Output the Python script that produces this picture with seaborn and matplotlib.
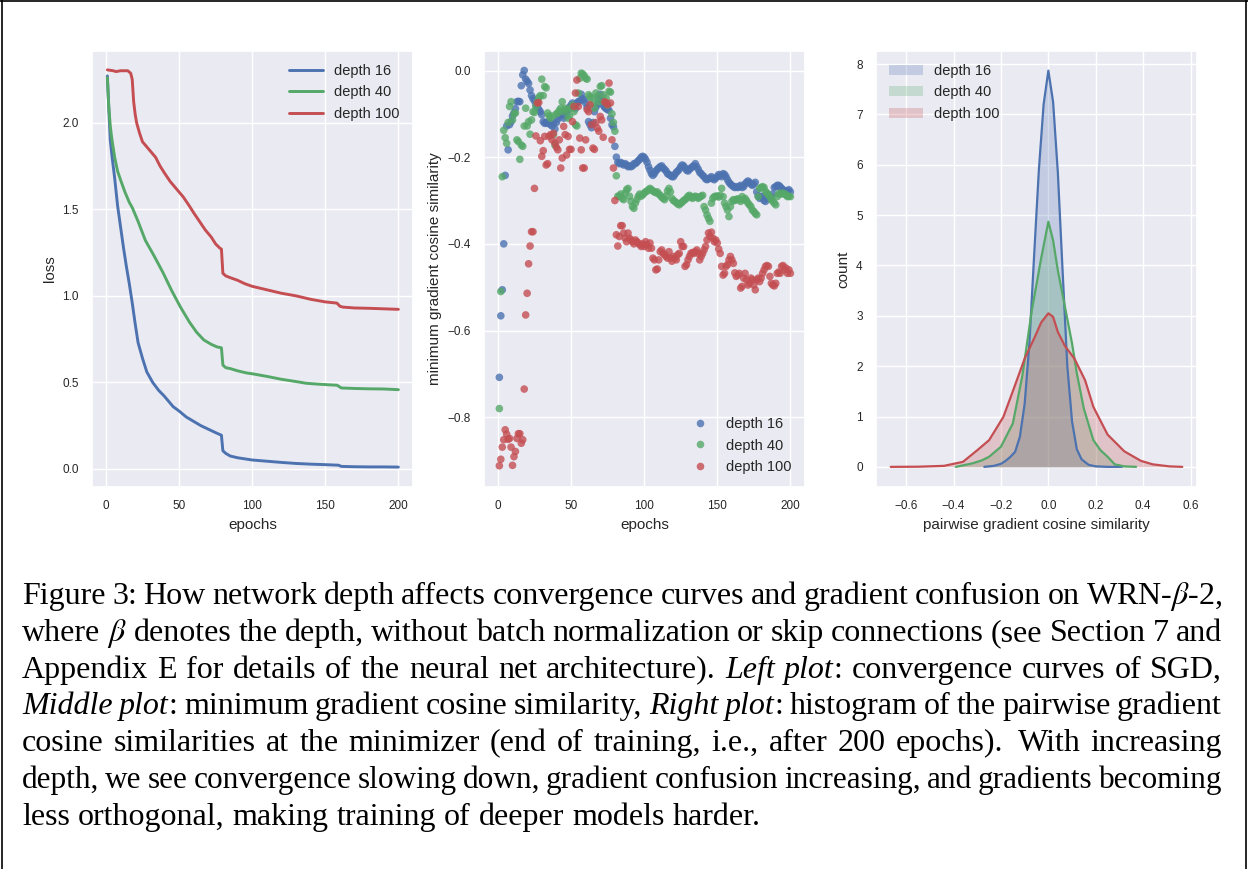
import numpy as np
import pandas as pd
import matplotlib
matplotlib.use("Agg")
import matplotlib.pyplot as plt
import seaborn as sns
from matplotlib.transforms import IdentityTransform
from matplotlib.patches import Patch
from matplotlib.lines import Line2D

# ---------------- data ----------------
LABELS = ["depth 16", "depth 40", "depth 100"]
COLORS = ["#4C72B0", "#55A868", "#C44E52"]

# Left: loss curves
loss_ep_d16 = [1, 2, 3, 4, 6, 8, 10, 12, 14, 16, 18, 20, 22, 25, 28, 32, 36, 40, 46, 50,
               55, 60, 65, 70, 75, 79, 80, 82, 85, 90, 100, 110, 120, 130, 140, 150, 159, 161,
               170, 180, 190, 200]
loss_d16 = [2.27, 2.08, 1.90, 1.82, 1.68, 1.52, 1.40, 1.28, 1.17, 1.07, 0.96, 0.84, 0.73, 0.64,
            0.56, 0.50, 0.455, 0.42, 0.36, 0.335, 0.30, 0.275, 0.25, 0.23, 0.21, 0.195, 0.105,
            0.09, 0.075, 0.065, 0.052, 0.045, 0.038, 0.032, 0.028, 0.025, 0.022, 0.015, 0.013,
            0.012, 0.012, 0.011]
loss_ep_d40 = [1, 2, 3, 4, 6, 8, 10, 13, 16, 18, 22, 27, 33, 39, 45, 51, 57, 62, 67, 72, 76, 79,
               80, 82, 85, 90, 96, 100, 110, 120, 130, 137, 145, 155, 158, 161, 170, 180, 190, 200]
loss_d40 = [2.26, 2.09, 1.98, 1.91, 1.80, 1.72, 1.67, 1.60, 1.54, 1.51, 1.43, 1.32, 1.23, 1.135,
            1.03, 0.935, 0.85, 0.79, 0.745, 0.72, 0.705, 0.70, 0.60, 0.585, 0.58, 0.567, 0.555,
            0.55, 0.535, 0.518, 0.505, 0.495, 0.49, 0.485, 0.484, 0.468, 0.465, 0.463, 0.462, 0.458]
loss_ep_d100 = [1, 5, 7, 10, 15, 17, 18, 19, 20, 21, 23, 25, 28, 31, 34, 37, 40, 44, 48, 53,
                57, 60, 64, 68, 72, 75, 78, 79, 80, 82, 85, 90, 95, 100, 110, 120, 130, 140, 150,
                158, 160, 162, 170, 180, 190, 200]
loss_d100 = [2.305, 2.30, 2.295, 2.30, 2.30, 2.285, 2.25, 2.12, 2.05, 2.0, 1.94, 1.89, 1.86, 1.83,
             1.80, 1.75, 1.71, 1.66, 1.62, 1.57, 1.52, 1.48, 1.43, 1.38, 1.34, 1.30, 1.275, 1.27,
             1.13, 1.115, 1.105, 1.09, 1.07, 1.055, 1.035, 1.015, 1.0, 0.98, 0.965, 0.958, 0.94,
             0.935, 0.93, 0.928, 0.925, 0.922]

# Middle: minimum gradient cosine similarity, epochs 1..200
sim_epochs = list(range(1, 201))
sim_d16 = [
    -0.708, -0.566, -0.506, -0.400, -0.242, -0.128, -0.183, -0.125, -0.118, -0.105,
    -0.098, -0.088, -0.072, -0.071, -0.072, -0.035, -0.010, 0.000, -0.020, -0.025,
    -0.030, -0.045, -0.058, -0.065, -0.070, -0.080, -0.085, -0.090, -0.095, -0.102,
    -0.118, -0.122, -0.120, -0.122, -0.118, -0.125, -0.128, -0.122, -0.135, -0.120,
    -0.112, -0.105, -0.100, -0.098, -0.110, -0.105, -0.100, -0.090, -0.085, -0.080,
    -0.075, -0.080, -0.088, -0.075, -0.072, -0.070, -0.055, -0.065, -0.068, -0.075,
    -0.085, -0.118, -0.125, -0.132, -0.120, -0.095, -0.085, -0.078, -0.065, -0.055,
    -0.070, -0.080, -0.085, -0.088, -0.090, -0.092, -0.110, -0.125, -0.130, -0.175,
    -0.200, -0.212, -0.215, -0.212, -0.215, -0.218, -0.215, -0.218, -0.222, -0.220,
    -0.222, -0.220, -0.215, -0.215, -0.212, -0.208, -0.205, -0.200, -0.198, -0.200,
    -0.205, -0.212, -0.222, -0.230, -0.238, -0.242, -0.238, -0.232, -0.228, -0.225,
    -0.222, -0.220, -0.225, -0.228, -0.232, -0.238, -0.240, -0.242, -0.245, -0.245,
    -0.240, -0.235, -0.232, -0.228, -0.222, -0.218, -0.220, -0.225, -0.230, -0.232,
    -0.228, -0.225, -0.222, -0.220, -0.215, -0.222, -0.228, -0.235, -0.238, -0.242,
    -0.245, -0.250, -0.252, -0.250, -0.248, -0.245, -0.250, -0.252, -0.248, -0.245,
    -0.240, -0.242, -0.245, -0.238, -0.240, -0.245, -0.252, -0.258, -0.262, -0.265,
    -0.268, -0.270, -0.268, -0.270, -0.268, -0.265, -0.270, -0.268, -0.262, -0.258,
    -0.255, -0.258, -0.262, -0.265, -0.262, -0.258, -0.280, -0.290, -0.295, -0.292,
    -0.290, -0.300, -0.302, -0.295, -0.290, -0.295, -0.292, -0.285, -0.270, -0.268,
    -0.265, -0.265, -0.268, -0.272, -0.275, -0.278, -0.280, -0.278, -0.275, -0.280,
]
sim_d40 = [
    -0.780, -0.510, -0.245, -0.138, -0.155, -0.168, -0.120, -0.083, -0.072, -0.114,
    -0.100, -0.098, -0.160, -0.164, -0.205, -0.172, -0.175, -0.128, -0.087, -0.128,
    -0.118, -0.147, -0.114, -0.095, -0.097, -0.083, -0.072, -0.062, -0.058, -0.020,
    -0.058, -0.037, -0.040, -0.098, -0.105, -0.110, -0.105, -0.148, -0.172, -0.100,
    -0.098, -0.092, -0.087, -0.072, -0.095, -0.087, -0.090, -0.110, -0.105, -0.087,
    -0.080, -0.095, -0.125, -0.128, -0.052, -0.018, -0.006, -0.008, -0.012, -0.018,
    -0.020, -0.056, -0.060, -0.064, -0.075, -0.087, -0.052, -0.060, -0.072, -0.037,
    -0.035, -0.056, -0.072, -0.064, -0.080, -0.048, -0.050, -0.100, -0.120, -0.140,
    -0.243, -0.290, -0.290, -0.285, -0.295, -0.298, -0.283, -0.275, -0.272, -0.290,
    -0.302, -0.314, -0.318, -0.306, -0.298, -0.290, -0.285, -0.290, -0.287, -0.283,
    -0.280, -0.278, -0.275, -0.272, -0.275, -0.278, -0.280, -0.282, -0.280, -0.285,
    -0.288, -0.292, -0.295, -0.298, -0.290, -0.278, -0.272, -0.280, -0.295, -0.300,
    -0.302, -0.305, -0.308, -0.310, -0.306, -0.304, -0.300, -0.298, -0.295, -0.290,
    -0.288, -0.292, -0.295, -0.292, -0.290, -0.292, -0.295, -0.292, -0.290, -0.288,
    -0.314, -0.322, -0.333, -0.341, -0.348, -0.306, -0.295, -0.291, -0.290, -0.290,
    -0.292, -0.288, -0.272, -0.291, -0.306, -0.314, -0.322, -0.337, -0.314, -0.302,
    -0.298, -0.300, -0.298, -0.296, -0.298, -0.302, -0.291, -0.298, -0.295, -0.300,
    -0.306, -0.310, -0.314, -0.322, -0.325, -0.330, -0.333, -0.291, -0.272, -0.270,
    -0.268, -0.270, -0.279, -0.283, -0.287, -0.291, -0.298, -0.302, -0.306, -0.310,
    -0.291, -0.285, -0.283, -0.285, -0.283, -0.285, -0.287, -0.291, -0.290, -0.291,
]
sim_d100 = [
    -0.912, -0.897, -0.869, -0.852, -0.829, -0.839, -0.851, -0.849, -0.869, -0.911,
    -0.891, -0.879, -0.849, -0.838, -0.838, -0.860, -0.852, -0.735, -0.564, -0.514,
    -0.446, -0.405, -0.372, -0.372, -0.272, -0.151, -0.075, -0.074, -0.162, -0.198,
    -0.185, -0.152, -0.218, -0.215, -0.152, -0.148, -0.160, -0.145, -0.168, -0.177,
    -0.183, -0.160, -0.225, -0.202, -0.129, -0.148, -0.195, -0.152, -0.182, -0.182,
    -0.118, -0.083, -0.052, -0.022, -0.083, -0.156, -0.183, -0.225, -0.225, -0.160,
    -0.090, -0.095, -0.079, -0.125, -0.179, -0.182, -0.120, -0.133, -0.140, -0.106,
    -0.114, -0.154, -0.072, -0.075, -0.079, -0.029, -0.075, -0.160, -0.225, -0.300,
    -0.379, -0.405, -0.383, -0.358, -0.358, -0.375, -0.387, -0.395, -0.375, -0.387,
    -0.391, -0.395, -0.400, -0.391, -0.395, -0.398, -0.402, -0.406, -0.400, -0.406,
    -0.395, -0.402, -0.410, -0.398, -0.410, -0.433, -0.437, -0.460, -0.458, -0.437,
    -0.418, -0.414, -0.422, -0.425, -0.429, -0.433, -0.418, -0.433, -0.440, -0.429,
    -0.433, -0.437, -0.425, -0.422, -0.395, -0.406, -0.406, -0.452, -0.448, -0.437,
    -0.429, -0.422, -0.420, -0.422, -0.418, -0.414, -0.422, -0.437, -0.429, -0.422,
    -0.414, -0.406, -0.391, -0.375, -0.383, -0.373, -0.387, -0.395, -0.391, -0.398,
    -0.412, -0.422, -0.452, -0.472, -0.468, -0.452, -0.448, -0.437, -0.429, -0.437,
    -0.445, -0.467, -0.475, -0.472, -0.468, -0.502, -0.498, -0.479, -0.468, -0.483,
    -0.495, -0.491, -0.479, -0.483, -0.495, -0.506, -0.483, -0.479, -0.487, -0.479,
    -0.468, -0.460, -0.452, -0.450, -0.452, -0.475, -0.491, -0.495, -0.497, -0.491,
    -0.468, -0.465, -0.468, -0.452, -0.450, -0.460, -0.456, -0.468, -0.460, -0.468,
]

# Right: density curves of pairwise gradient cosine similarity
dens_x_d16 = [-0.27, -0.23, -0.20, -0.18, -0.16, -0.14, -0.12, -0.10, -0.08, -0.06, -0.04,
              -0.02, 0.0, 0.02, 0.04, 0.06, 0.08, 0.10, 0.12, 0.14, 0.17, 0.20, 0.25, 0.31]
dens_d16 = [0.0, 0.02, 0.06, 0.12, 0.2, 0.3, 0.6, 1.25, 2.45, 4.2, 5.9, 7.2, 7.87, 7.25, 5.85,
            3.9, 2.0, 0.9, 0.35, 0.15, 0.04, 0.01, 0.0, 0.0]
dens_x_d40 = [-0.39, -0.32, -0.28, -0.25, -0.20, -0.15, -0.11, -0.07, -0.03, 0.0, 0.02, 0.04,
              0.07, 0.10, 0.12, 0.15, 0.19, 0.22, 0.25, 0.28, 0.32, 0.37]
dens_d40 = [0.0, 0.07, 0.13, 0.2, 0.4, 0.86, 1.8, 3.1, 4.15, 4.87, 4.5, 3.9, 3.18, 2.45, 1.86,
            1.15, 0.53, 0.33, 0.2, 0.05, 0.01, 0.0]
dens_x_d100 = [-0.665, -0.55, -0.44, -0.36, -0.30, -0.25, -0.19, -0.15, -0.10, -0.06, -0.03,
               0.0, 0.02, 0.04, 0.07, 0.11, 0.155, 0.19, 0.25, 0.32, 0.39, 0.44, 0.51, 0.565]
dens_d100 = [0.0, 0.003, 0.02, 0.1, 0.33, 0.53, 0.99, 1.5, 2.15, 2.55, 2.87, 3.05, 2.98, 2.68,
             2.4, 2.15, 1.72, 1.19, 0.64, 0.31, 0.12, 0.05, 0.01, 0.0]

CAPTION = [
    "Figure 3: How network depth affects convergence curves and gradient confusion on WRN-$\\beta$-2,",
    "where $\\beta$ denotes the depth, without batch normalization or skip connections (see Section 7 and",
    "Appendix E for details of the neural net architecture). *Left* *plot*: convergence curves of SGD,",
    "*Middle* *plot*: minimum gradient cosine similarity, *Right* *plot*: histogram of the pairwise gradient",
    "cosine similarities at the minimizer (end of training, i.e., after 200 epochs).  With increasing",
    "depth, we see convergence slowing down, gradient confusion increasing, and gradients becoming",
    "less orthogonal, making training of deeper models harder.",
]

# ---------------- style ----------------
sns.set_theme(style="darkgrid")
plt.rcParams["font.family"] = ["Liberation Sans", "DejaVu Sans"]
plt.rcParams["mathtext.fontset"] = "stix"
plt.rcParams["text.color"] = ".15"
plt.rcParams["axes.labelcolor"] = ".15"
plt.rcParams["xtick.color"] = ".15"
plt.rcParams["ytick.color"] = ".15"

W, H = 1248, 869
fig = plt.figure(figsize=(W / 100, H / 100), dpi=100, facecolor="white")

def add_ax(left_px):
    return fig.add_axes([left_px / W, 1 - 487 / H, 321 / W, 436 / H])

ax1 = add_ax(92)
ax2 = add_ax(484)
ax3 = add_ax(876)

TICK_FS = 8.5
LABEL_FS = 11
LEG_FS = 10.5

# Left
df_loss = pd.concat([
    pd.DataFrame({"epochs": loss_ep_d16, "loss": loss_d16, "depth": LABELS[0]}),
    pd.DataFrame({"epochs": loss_ep_d40, "loss": loss_d40, "depth": LABELS[1]}),
    pd.DataFrame({"epochs": loss_ep_d100, "loss": loss_d100, "depth": LABELS[2]}),
])
sns.lineplot(data=df_loss, x="epochs", y="loss", hue="depth", hue_order=LABELS,
             palette=COLORS, estimator=None, linewidth=2.1, ax=ax1)
ax1.set_xlim(-9.5, 210)
ax1.set_ylim(-0.104, 2.414)
ax1.set_xticks([0, 50, 100, 150, 200])
ax1.set_yticks([0.0, 0.5, 1.0, 1.5, 2.0])
h, l = ax1.get_legend_handles_labels()
ax1.legend(h, l, loc="upper right", frameon=False, fontsize=LEG_FS, handlelength=2.3)

# Middle
df_sim = pd.concat([
    pd.DataFrame({"epochs": sim_epochs, "sim": sim_d16, "depth": LABELS[0]}),
    pd.DataFrame({"epochs": sim_epochs, "sim": sim_d40, "depth": LABELS[1]}),
    pd.DataFrame({"epochs": sim_epochs, "sim": sim_d100, "depth": LABELS[2]}),
])
sns.scatterplot(data=df_sim, x="epochs", y="sim", hue="depth", hue_order=LABELS,
                palette=COLORS, s=30, alpha=0.8, linewidth=0, ax=ax2)
ax2.set_xlim(-9.5, 210)
ax2.set_ylim(-0.961, 0.045)
ax2.set_xticks([0, 50, 100, 150, 200])
ax2.set_yticks([-0.8, -0.6, -0.4, -0.2, 0.0])
ax2.set_ylabel("minimum gradient cosine similarity")
h, l = ax2.get_legend_handles_labels()
ax2.legend(h, l, loc="lower right", frameon=False, fontsize=LEG_FS)

# Right
for xs, ys, lab, c in [(dens_x_d16, dens_d16, LABELS[0], COLORS[0]),
                       (dens_x_d40, dens_d40, LABELS[1], COLORS[1]),
                       (dens_x_d100, dens_d100, LABELS[2], COLORS[2])]:
    ax3.fill_between(xs, ys, 0, color=c, alpha=0.25, linewidth=0)
    sns.lineplot(x=xs, y=ys, color=c, linewidth=1.6, ax=ax3)
ax3.set_xlim(-0.727, 0.627)
ax3.set_ylim(-0.40, 8.26)
ax3.set_xticks([-0.6, -0.4, -0.2, 0.0, 0.2, 0.4, 0.6])
ax3.set_yticks(list(range(9)))
ax3.set_xlabel("pairwise gradient cosine similarity")
ax3.set_ylabel("count")
handles = [Patch(facecolor=c, alpha=0.25, edgecolor="none") for c in COLORS]
ax3.legend(handles, LABELS, loc="upper left", frameon=False, fontsize=LEG_FS, handlelength=2.3)

for ax in (ax1, ax2, ax3):
    ax.tick_params(labelsize=TICK_FS)
    ax.xaxis.label.set_size(LABEL_FS)
    ax.yaxis.label.set_size(LABEL_FS)

# ---------------- caption (justified) ----------------
renderer = fig.canvas.get_renderer()
CAP_FS = 23
X0, X1 = 22, 1222
BASE0, LEAD = 604, 36.8
MIN_GAP = 6.0

def split_pieces(tok):
    out, cur, it = [], "", False
    for ch in tok:
        if ch == "*":
            if cur:
                out.append((cur, it))
            cur = ""
            it = not it
        else:
            cur += ch
    if cur:
        out.append((cur, it))
    return out

def mk(s, it):
    return fig.text(0, 0, s, transform=IdentityTransform(), fontsize=CAP_FS,
                    family=["Liberation Serif", "DejaVu Serif"],
                    style="italic" if it else "normal", ha="left", va="baseline",
                    color="black")

def measure(objs):
    ws = []
    for parts in objs:
        ws.append([t.get_window_extent(renderer).width for t in parts])
    return ws

for i, line in enumerate(CAPTION):
    y = H - (BASE0 + i * LEAD)
    tokens = line.split(" ")
    words, extra = [], []
    pending = 0
    for t in tokens:
        if t == "":
            pending += 1
            continue
        words.append(t)
        extra.append(pending)
        pending = 0
    objs = [[mk(s, it) for s, it in split_pieces(w)] for w in words]
    ws = measure(objs)
    total = sum(sum(p) for p in ws)
    last = (i == len(CAPTION) - 1)
    nextra = sum(extra)
    nslots = len(words) - 1 + 0.4 * nextra
    if not last:
        gap = (X1 - X0 - total) / nslots
        if gap < MIN_GAP:
            scale = (X1 - X0 - MIN_GAP * nslots) / total
            for parts in objs:
                for t in parts:
                    t.set_fontsize(CAP_FS * scale)
            ws = measure(objs)
            total = sum(sum(p) for p in ws)
            gap = (X1 - X0 - total) / nslots
    else:
        gap = CAP_FS * 100 / 72 * 0.25
    bonus = 0.4 * gap
    x = X0
    for k, parts in enumerate(objs):
        if k > 0:
            x += gap + bonus * extra[k]
        for t, pw in zip(parts, ws[k]):
            t.set_position((x, y))
            x += pw

# figure border
for xs, ys in [([1.5, 1.5], [0, H]), ([0, W], [H - 1, H - 1]), ([W - 2, W - 2], [0, H])]:
    fig.add_artist(Line2D(xs, ys, transform=IdentityTransform(), color="black", linewidth=1.2))

fig.savefig("out.png", dpi=100, facecolor="white")
